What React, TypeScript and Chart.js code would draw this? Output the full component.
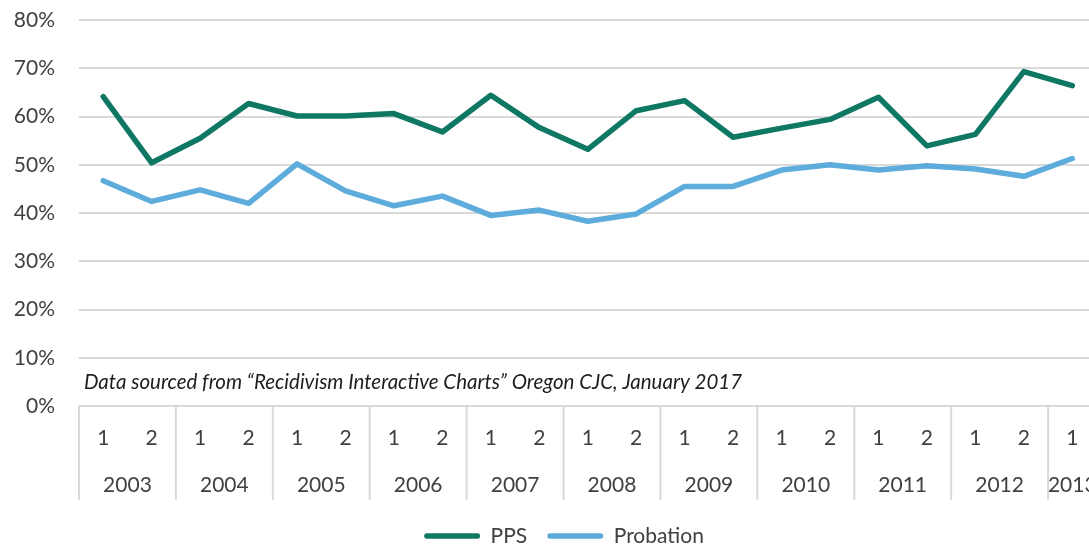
import { useEffect, useRef } from "react";
import { Chart, registerables } from "chart.js";

Chart.register(...registerables);

const years = ["2003", "2004", "2005", "2006", "2007", "2008", "2009", "2010", "2011", "2012", "2013"];
const halves = ["1", "2", "1", "2", "1", "2", "1", "2", "1", "2", "1", "2", "1", "2", "1", "2", "1", "2", "1", "2", "1"];
const ppsValues = [64.1, 50.4, 55.5, 62.7, 60.1, 60.1, 60.6, 56.8, 64.4, 57.7, 53.2, 61.2, 63.3, 55.7, 57.6, 59.4, 64.0, 53.9, 56.3, 69.3, 66.4];
const probationValues = [46.7, 42.4, 44.8, 42.0, 50.2, 44.6, 41.5, 43.5, 39.5, 40.6, 38.3, 39.8, 45.5, 45.5, 48.9, 50.0, 48.9, 49.8, 49.1, 47.6, 51.3];
const seriesNames = ["PPS", "Probation"];
const yMin = 0;
const yMax = 80;
const yStep = 10;
const noteText = "Data sourced from \u201cRecidivism Interactive Charts\u201d Oregon CJC, January 2017";

const FONT = "Lato";
const FS = 21;
const TEXT = "#404040";
const GRID = "#d9d9d9";
const PPS_COLOR = "#0f7864";
const PROB_COLOR = "#5dacdc";
const CANVAS_W = 1128;
const CANVAS_H = 546;

export default function App() {
  const ref = useRef<HTMLCanvasElement>(null);

  useEffect(() => {
    const canvas = ref.current;
    if (!canvas) return;

    const legendShift = {
      id: "legendShift",
      afterLayout(chart: any) {
        const lg = chart.legend;
        if (lg) {
          lg.top += 10.5;
          lg.bottom += 10.5;
        }
      },
    };

    const yearAxisPlugin = {
      id: "yearAxis",
      afterDraw(chart: any) {
        const ctx = chart.ctx;
        const x = chart.scales.x;
        const area = chart.chartArea;
        const half = (x.getPixelForValue(1) - x.getPixelForValue(0)) / 2;
        const groups: { year: string; start: number; end: number }[] = [];
        halves.forEach((h, i) => {
          if (h === "1") groups.push({ year: years[groups.length], start: i, end: i });
          else groups[groups.length - 1].end = i;
        });
        ctx.save();
        ctx.strokeStyle = GRID;
        ctx.lineWidth = 2;
        ctx.font = `${FS}px ${FONT}`;
        ctx.fillStyle = TEXT;
        ctx.textAlign = "center";
        ctx.textBaseline = "middle";
        groups.forEach((g) => {
          const left = x.getPixelForValue(g.start) - half;
          const right = x.getPixelForValue(g.end) + half;
          ctx.beginPath();
          ctx.moveTo(left, area.bottom);
          ctx.lineTo(left, area.bottom + 94);
          ctx.stroke();
          ctx.fillText(g.year, (left + right) / 2, area.bottom + 79);
        });
        ctx.font = `italic 20.5px ${FONT}`;
        ctx.textAlign = "left";
        ctx.fillStyle = "#1e1e1e";
        ctx.fillText(noteText, area.left + 5, area.bottom - 24);
        ctx.restore();
      },
    };

    const chart = new Chart(canvas, {
      type: "line",
      data: {
        labels: halves,
        datasets: [
          {
            label: seriesNames[0],
            data: ppsValues,
            borderColor: PPS_COLOR,
            backgroundColor: PPS_COLOR,
            borderWidth: 5.5,
            pointRadius: 0,
            borderJoinStyle: "round",
            borderCapStyle: "round",
            tension: 0,
          },
          {
            label: seriesNames[1],
            data: probationValues,
            borderColor: PROB_COLOR,
            backgroundColor: PROB_COLOR,
            borderWidth: 5.5,
            pointRadius: 0,
            borderJoinStyle: "round",
            borderCapStyle: "round",
            tension: 0,
          },
        ],
      },
      options: {
        responsive: false,
        animation: false,
        devicePixelRatio: 1,
        layout: { padding: { top: 20, bottom: 0, left: 0, right: 0 } },
        plugins: {
          tooltip: { enabled: false },
          legend: {
            position: "bottom",
            labels: {
              boxWidth: 56,
              boxHeight: 5.5,
              padding: 20,
              color: TEXT,
              font: { family: FONT, size: FS },
              generateLabels: (c: any) =>
                c.data.datasets.map((d: any, i: number) => ({
                  text: d.label,
                  fillStyle: d.borderColor,
                  strokeStyle: d.borderColor,
                  lineWidth: 0,
                  borderRadius: 2.75,
                  hidden: false,
                  datasetIndex: i,
                  fontColor: TEXT,
                })),
            },
          },
        },
        scales: {
          x: {
            type: "category",
            offset: true,
            grid: { display: false, drawTicks: false },
            border: { display: false },
            ticks: {
              autoSkip: false,
              maxRotation: 0,
              padding: 19.5,
              color: TEXT,
              font: { family: FONT, size: FS },
            },
            afterFit: (s: any) => {
              s.height = 89;
            },
          },
          y: {
            position: "left",
            min: yMin,
            max: yMax,
            ticks: {
              stepSize: yStep,
              padding: 24,
              color: TEXT,
              font: { family: FONT, size: FS },
              callback: (v: any) => `${v}%`,
            },
            grid: { color: GRID, lineWidth: 2, drawTicks: false },
            border: { display: false },
            afterFit: (s: any) => {
              s.width = 79;
              s.paddingTop = 0;
              s.paddingBottom = 0;
            },
          },
          yRight: {
            type: "linear",
            position: "right",
            display: true,
            grid: { display: false },
            border: { display: false },
            ticks: { display: false },
            afterFit: (s: any) => {
              s.width = CANVAS_W - 1096.5;
              s.paddingTop = 0;
              s.paddingBottom = 0;
            },
          },
        },
      },
      plugins: [yearAxisPlugin, legendShift],
    });

    return () => chart.destroy();
  }, []);

  return (
    <div
      style={{
        position: "fixed",
        left: 0,
        top: 0,
        width: 1089,
        height: 546,
        overflow: "hidden",
        background: "#fff",
      }}
    >
      <canvas ref={ref} width={CANVAS_W} height={CANVAS_H} style={{ display: "block" }} />
    </div>
  );
}
